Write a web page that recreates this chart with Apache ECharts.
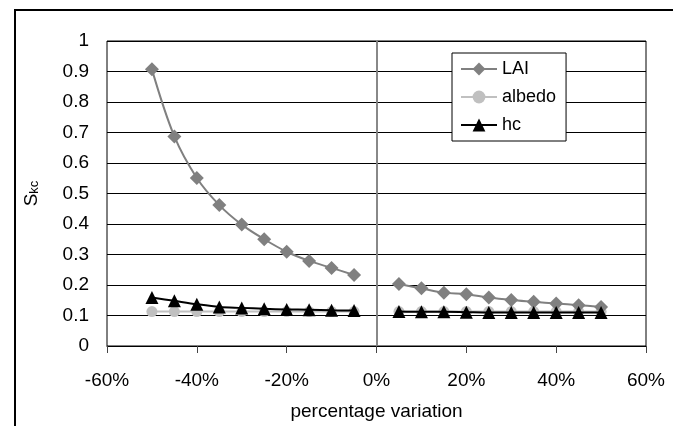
<!DOCTYPE html>
<html><head><meta charset="utf-8">
<script src="https://cdn.jsdelivr.net/npm/echarts@6/dist/echarts.min.js"></script>
<style>html,body{margin:0;padding:0;background:#fff}#c{width:673px;height:426px}</style>
</head><body><div id="c"></div>
<script>
// percentage variation (%)
const xLeft = [-50, -45, -40, -35, -30, -25, -20, -15, -10, -5];
const xRight = [5, 10, 15, 20, 25, 30, 35, 40, 45, 50];
const laiLeft = [0.907, 0.687, 0.551, 0.462, 0.398, 0.350, 0.309, 0.279, 0.256, 0.233];
const laiRight = [0.203, 0.189, 0.175, 0.170, 0.159, 0.151, 0.145, 0.139, 0.134, 0.128];
const albedoLeft = [0.113, 0.113, 0.113, 0.113, 0.113, 0.113, 0.113, 0.113, 0.113, 0.113];
const albedoRight = [0.113, 0.113, 0.113, 0.113, 0.113, 0.113, 0.113, 0.113, 0.113, 0.113];
const hcLeft = [0.159, 0.148, 0.137, 0.128, 0.125, 0.122, 0.120, 0.119, 0.117, 0.116];
const hcRight = [0.113, 0.112, 0.112, 0.111, 0.110, 0.110, 0.110, 0.110, 0.110, 0.110];
const xTicks = { min: -60, max: 60, interval: 20 };
const yTicks = { min: 0, max: 1, interval: 0.1 };

function pairs(xl, yl, xr, yr) {
  const d = xl.map((x, i) => [x, yl[i]]);
  d.push([0, '-']);
  xr.forEach((x, i) => d.push([x, yr[i]]));
  return d;
}
const FONT = 'Liberation Sans';
const chart = echarts.init(document.getElementById('c'), null, { renderer: 'canvas' });
chart.setOption({
  animation: false,
  backgroundColor: '#fff',
  textStyle: { fontFamily: FONT },
  grid: { left: 107, right: 27, top: 41, bottom: 80, containLabel: false, outerBoundsMode: 'none',
    show: true, borderColor: '#000', borderWidth: 1, backgroundColor: 'transparent' },
  graphic: [{
    type: 'rect', shape: { x: 15, y: 10, width: 700, height: 500 },
    style: { fill: 'none', stroke: '#000', lineWidth: 2 }, silent: true, z: -1
  }],
  legend: {
    left: 452, top: 53, width: 112, orient: 'vertical',
    padding: [7, 10, 7, 8], itemGap: 10, itemWidth: 36, itemHeight: 16,
    backgroundColor: '#fff', borderColor: '#000', borderWidth: 1,
    textStyle: { fontFamily: FONT, fontSize: 18, color: '#000' },
    data: ['LAI', 'albedo', 'hc']
  },
  xAxis: {
    type: 'value', min: xTicks.min, max: xTicks.max, interval: xTicks.interval,
    name: 'percentage variation', nameLocation: 'middle', nameGap: 56,
    nameTextStyle: { fontFamily: FONT, fontSize: 19, color: '#000' },
    axisLine: { onZero: false, lineStyle: { color: '#000', width: 1 } },
    axisTick: { show: true, length: 7, inside: false, lineStyle: { color: '#444' } },
    axisLabel: { formatter: '{value}%', fontSize: 19, color: '#000', margin: 25, fontFamily: FONT },
    splitLine: { show: false }
  },
  yAxis: {
    type: 'value', min: yTicks.min, max: yTicks.max, interval: yTicks.interval,
    name: '{s|S}{k|kc}', nameLocation: 'middle', nameGap: 66, nameRotate: 90,
    nameTextStyle: {
      rich: {
        s: { fontFamily: FONT, fontSize: 19, color: '#000', verticalAlign: 'bottom', lineHeight: 20 },
        k: { fontFamily: FONT, fontSize: 13, color: '#000', verticalAlign: 'bottom', lineHeight: 16, padding: [7, 0, 0, 0] }
      }
    },
    axisLine: { show: true, lineStyle: { color: '#808080', width: 1.5 } },
    axisTick: { show: false },
    axisLabel: { fontSize: 19, color: '#000', margin: 18, fontFamily: FONT },
    splitLine: { show: true, lineStyle: { color: '#000', width: 1 } }
  },
  series: [
    {
      name: 'LAI', type: 'line', smooth: 0.35, connectNulls: false,
      data: pairs(xLeft, laiLeft, xRight, laiRight),
      symbol: 'diamond', symbolSize: 14,
      itemStyle: { color: '#808080' }, lineStyle: { color: '#808080', width: 2 },
      markLine: {
        silent: true, symbol: 'none', label: { show: false },
        lineStyle: { color: '#808080', width: 1.5, type: 'solid' },
        data: [{ xAxis: 0 }], animation: false
      },
      z: 3
    },
    {
      name: 'albedo', type: 'line', connectNulls: false,
      data: pairs(xLeft, albedoLeft, xRight, albedoRight),
      symbol: 'circle', symbolSize: 11,
      itemStyle: { color: '#C0C0C0' }, lineStyle: { color: '#C0C0C0', width: 2 },
      z: 2
    },
    {
      name: 'hc', type: 'line', smooth: 0.3, connectNulls: false,
      data: pairs(xLeft, hcLeft, xRight, hcRight),
      symbol: 'triangle', symbolSize: 13,
      itemStyle: { color: '#000' }, lineStyle: { color: '#000', width: 2 },
      z: 4
    }
  ]
});
</script></body></html>
